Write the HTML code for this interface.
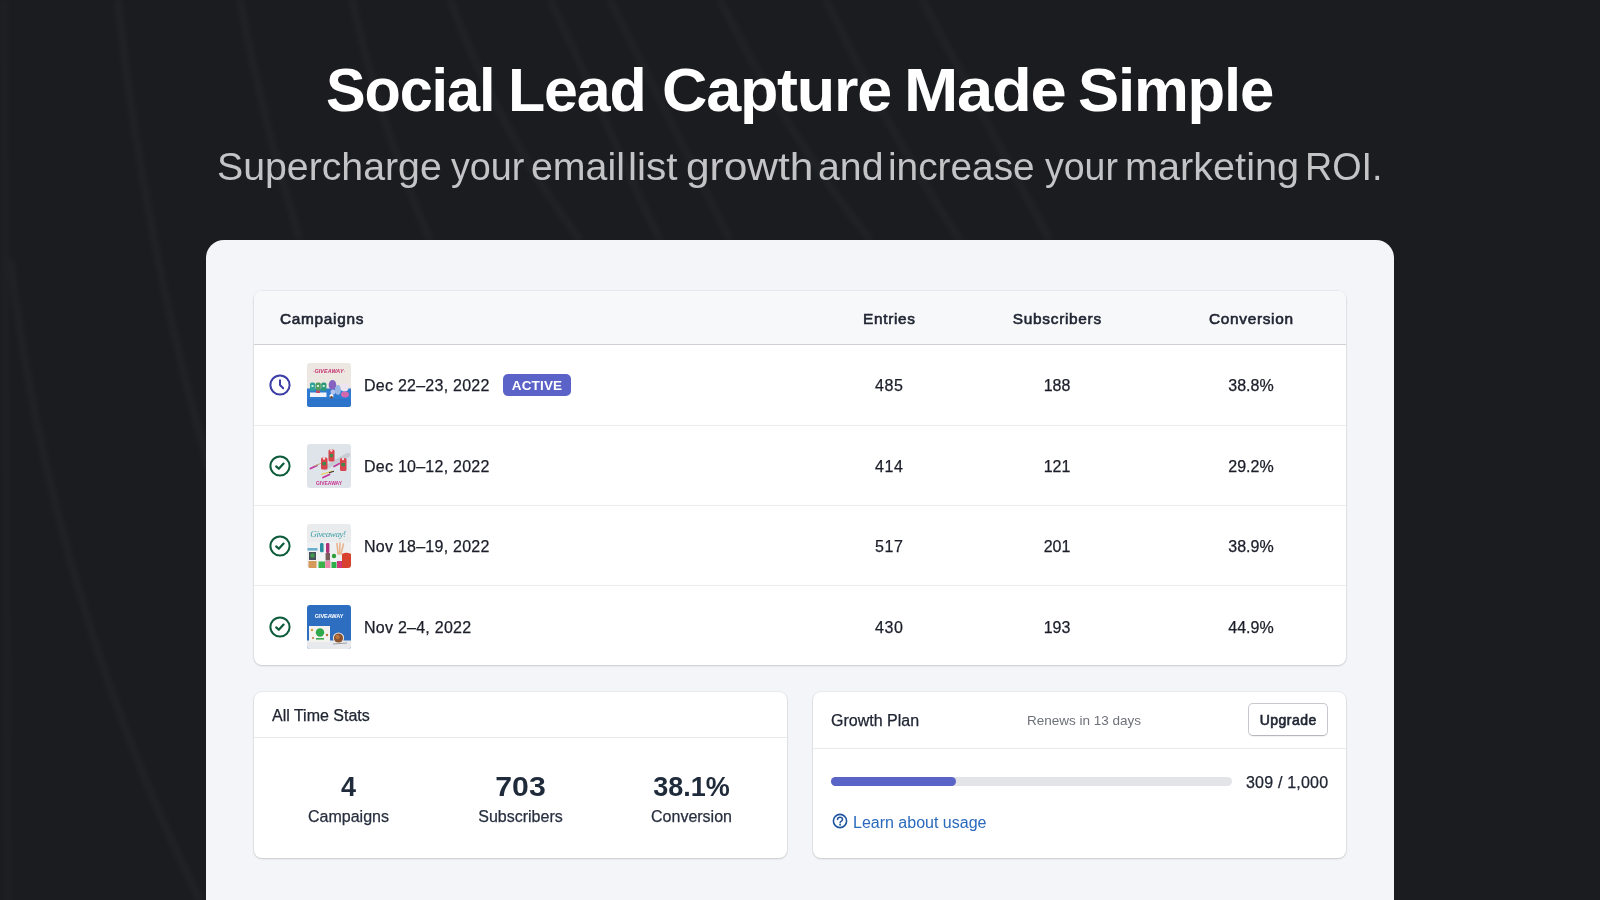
<!DOCTYPE html>
<html lang="en">
<head>
<meta charset="utf-8">
<title>Social Lead Capture Made Simple</title>
<style>
*{box-sizing:border-box;margin:0;padding:0}
html,body{width:1600px;height:900px;overflow:hidden}
body{-webkit-font-smoothing:antialiased;background:#1b1c20;font-family:"Liberation Sans",Arial,sans-serif;color:#202633;position:relative}
.bg{position:absolute;left:0;top:0;width:1600px;height:900px}
h1{will-change:transform;position:absolute;left:0;width:1600px;height:62px;top:58.5px;font-size:62px;line-height:62px;font-weight:700;color:#fff}
h1 span,.sub span{position:absolute;top:0;white-space:nowrap;transform-origin:0 0}
.sub{will-change:transform;position:absolute;left:0;width:1600px;height:38px;top:148px;font-size:38px;line-height:38px;font-weight:400;color:#c4c4c6}
.panel{position:absolute;left:206px;top:240px;width:1188px;height:700px;background:#f4f5f9;border-radius:18px}
.card{will-change:transform;position:absolute;background:#fff;border-radius:8px;box-shadow:0 0 0 1px rgba(63,63,68,.06),0 1px 2px rgba(63,63,68,.18)}
.t{position:absolute;white-space:nowrap;line-height:1}
.date,.num,.ctitle,.stat span,.usage{-webkit-text-stroke:.25px currentColor}

.tbl{left:254px;top:291px;width:1092px;height:374px;overflow:hidden}
.thead{position:absolute;left:0;top:0;width:1092px;height:54px;background:#f7f8fa;border-bottom:1px solid #cfd1d7}
.th{position:absolute;top:19.5px;font-size:15.4px;font-weight:400;-webkit-text-stroke:.6px currentColor;letter-spacing:.7px;color:#202633;line-height:1}
.row{position:absolute;left:0;width:1092px;height:81px;border-bottom:1px solid #ececee}
.row:last-child{border-bottom:0}
.ic{position:absolute;left:15px;top:29px;width:22px;height:22px}
.thumb{position:absolute;left:53px;top:18px;width:44px;height:44px;border-radius:3px;overflow:hidden}
.date{position:absolute;left:110px;top:33px;font-size:16px;color:#1b1e29;line-height:1;letter-spacing:.25px}
.num{position:absolute;top:33px;font-size:16px;color:#1b1e29;line-height:1;width:200px;text-align:center;letter-spacing:.6px;text-indent:.6px}
.badge{position:absolute;left:249px;top:29px;height:22px;width:68px;border-radius:5px;background:#5c63c8;color:#fff;font-size:13.5px;font-weight:700;line-height:23.5px;text-align:center;letter-spacing:.15px}

.stats{left:254px;top:692px;width:533px;height:166px}
.plan{left:813px;top:692px;width:533px;height:166px}
.chead{position:absolute;left:0;top:0;width:533px;border-bottom:1px solid #e8e9ec}
.ctitle{position:absolute;font-size:16px;color:#202633;line-height:1}
.stat{position:absolute;top:82px;width:171px;text-align:center}
.stat b{display:block;font-size:27px;font-weight:700;color:#1f2b3b;line-height:27px;letter-spacing:.5px;text-indent:.5px}
.stat span{display:block;font-size:16px;color:#283040;line-height:16px;margin-top:7.5px}
.renew{position:absolute;left:214px;top:21.5px;font-size:13.5px;color:#6d7178;line-height:1}
.btn{position:absolute;left:435px;top:11px;width:80px;height:33px;border:1px solid #c6c9ce;border-bottom-color:#b5b8be;border-radius:5px;background:#fff;font-size:14px;font-weight:400;-webkit-text-stroke:.6px currentColor;letter-spacing:.5px;text-indent:.5px;color:#202633;text-align:center;line-height:33.5px;box-shadow:0 1px 0 rgba(0,0,0,.05)}
.track{position:absolute;left:18px;top:85px;width:401px;height:9px;border-radius:5px;background:#e3e4e8}
.fill{position:absolute;left:0;top:0;width:125px;height:9px;border-radius:5px;background:#5a63c6}
.usage{position:absolute;left:433px;top:82.5px;font-size:16px;color:#202633;line-height:1;letter-spacing:.2px}
.learn{position:absolute;left:18px;top:121.5px;height:16px;font-size:16px;color:#2a69bd;line-height:1}
.learn svg{position:absolute;left:1px;top:-0.5px;width:16px;height:16px}
.learn span{position:absolute;left:22px;top:1px;white-space:nowrap}
</style>
</head>
<body>
<svg class="bg" viewBox="0 0 1600 900">
  <defs><filter id="bl" x="-20%" y="-20%" width="140%" height="140%"><feGaussianBlur stdDeviation="2.5"/></filter></defs>
  <g fill="none" stroke="#ffffff" stroke-opacity="0.035" stroke-width="5" filter="url(#bl)">
    <path d="M118 0 C 130 120, 160 300, 210 470"/>
    <path d="M240 0 C 255 80, 275 160, 300 240"/>
    <path d="M352 0 C 370 80, 395 160, 430 240"/>
    <path d="M450 0 C 480 80, 520 160, 580 240"/>
    <path d="M550 0 C 590 80, 620 160, 660 240"/>
    <path d="M610 0 C 650 80, 690 160, 730 240"/>
    <path d="M720 0 C 750 60, 800 150, 870 240"/>
    <path d="M826 0 C 850 50, 900 150, 960 240"/>
    <path d="M922 0 C 950 50, 1000 150, 1050 240"/>
    <path d="M10 260 C 40 500, 110 720, 200 900"/>
    <path d="M4 0 L 8 900" stroke-opacity="0.02"/>
  </g>
</svg>

<h1><span style="left:326.1px;letter-spacing:-1.2px;transform:scaleX(0.959)">Social</span> <span style="left:508.1px;letter-spacing:-1.2px;transform:scaleX(0.982)">Lead</span> <span style="left:662.0px;letter-spacing:-1.2px;transform:scaleX(1.014)">Capture</span> <span style="left:903.8px;letter-spacing:-1.2px;transform:scaleX(1.051)">Made</span> <span style="left:1078.0px;letter-spacing:-1.2px;transform:scaleX(0.995)">Simple</span></h1>
<p class="sub"><span style="left:217.4px;transform:scaleX(1.033)">Supercharge</span> <span style="left:450.5px;transform:scaleX(0.993)">your</span> <span style="left:531.0px;transform:scaleX(1.034)">email</span> <span style="left:627.9px;transform:scaleX(1.067)">list</span> <span style="left:685.9px;transform:scaleX(1.117)">growth</span> <span style="left:817.7px;transform:scaleX(1.033)">and</span> <span style="left:887.5px;transform:scaleX(1.021)">increase</span> <span style="left:1045px;transform:scaleX(0.986)">your</span> <span style="left:1125.4px;transform:scaleX(1.043)">marketing</span> <span style="left:1305.3px;transform:scaleX(0.993)">ROI.</span></p>

<div class="panel"></div>
<div class="card tbl">
<div class="thead"><span class="th" style="left:26px">Campaigns</span><span class="th" style="left:535px;width:200px;text-align:center;text-indent:.7px">Entries</span><span class="th" style="left:703px;width:200px;text-align:center;text-indent:.7px">Subscribers</span><span class="th" style="left:897px;width:200px;text-align:center;text-indent:.7px">Conversion</span></div>
<div class="row" style="top:54px"><svg class="ic" viewBox="0 0 22 22"><circle cx="11" cy="11" r="9.6" fill="none" stroke="#3d3fa6" stroke-width="2"/><path d="M11 6.2 V11 L14.2 14.2" fill="none" stroke="#3d3fa6" stroke-width="2" stroke-linecap="round" stroke-linejoin="round"/></svg><svg class="thumb" viewBox="0 0 44 44"><rect width="44" height="44" fill="#ece7e1"/><text x="22" y="10.2" font-size="5.4" font-weight="700" font-style="italic" fill="#c4306e" text-anchor="middle" font-family="Liberation Sans" letter-spacing=".1">GIVEAWAY</text><circle cx="6.5" cy="8.5" r=".5" fill="#e58ab0"/><circle cx="37.5" cy="8.5" r=".5" fill="#e58ab0"/><rect x="0" y="25.5" width="44" height="18.5" fill="#2f7bd1"/><rect x="0" y="36" width="44" height="8" fill="#2b74c9"/><rect x="3" y="19.5" width="5.2" height="8.5" rx="1.8" fill="#2fa39b"/><rect x="8.6" y="19.5" width="5.2" height="8.5" rx="1.8" fill="#4f9d62"/><rect x="14.2" y="19.5" width="5.2" height="8.5" rx="1.8" fill="#2e9a7a"/><rect x="4.5" y="22" width="2" height="2" fill="#c9f0e0"/><rect x="10" y="22" width="2" height="2" fill="#d6ecd0"/><rect x="15.7" y="22" width="2" height="2" fill="#c9f0e0"/><rect x="3" y="29.5" width="16.5" height="4.5" fill="#f0f3fa"/><rect x="9" y="27.5" width="4" height="2.5" fill="#c44a6a"/><ellipse cx="25.5" cy="22" rx="3.8" ry="5" fill="#8663c0"/><ellipse cx="31" cy="27" rx="3" ry="5" fill="#98b6e6"/><circle cx="37.5" cy="24.5" r="4" fill="#ece4f2"/><ellipse cx="38" cy="31.5" rx="4" ry="3" fill="#d468ae"/><ellipse cx="26" cy="29" rx="2.5" ry="2.5" fill="#b2c4ee"/><circle cx="24.5" cy="33" r="2" fill="#fbfbfb"/><circle cx="24.5" cy="34.3" r="1.3" fill="#7a4a30"/></svg><span class="date">Dec 22–23, 2022</span><span class="badge">ACTIVE</span><span class="num" style="left:535px">485</span><span class="num" style="left:703px;letter-spacing:0;text-indent:0">188</span><span class="num" style="left:897px;letter-spacing:0;text-indent:0">38.8%</span></div>
<div class="row" style="top:135px;height:80px"><svg class="ic" viewBox="0 0 22 22"><circle cx="11" cy="11" r="9.6" fill="none" stroke="#0e5c3c" stroke-width="2"/><path d="M7.2 11.4 L9.8 13.8 L14.6 8.6" fill="none" stroke="#0e5c3c" stroke-width="2.2" stroke-linecap="round" stroke-linejoin="round"/></svg><svg class="thumb" viewBox="0 0 44 44"><rect width="44" height="44" fill="#dfe3ea"/><path d="M18 24 L41 11" stroke="#c8ccd5" stroke-width="4.5" stroke-linecap="round"/><path d="M3.5 24.5 L10 21.5" stroke="#c2379c" stroke-width="1.8" stroke-linecap="round"/><path d="M16 33.5 L22.5 30.5" stroke="#c2379c" stroke-width="1.8" stroke-linecap="round"/><path d="M27 22.5 L32.5 19.5" stroke="#c2379c" stroke-width="1.6" stroke-linecap="round"/><path d="M14 30.5 L26 27" stroke="#e3cf48" stroke-width="1.3"/><path d="M22 28.8 L27 27.3" stroke="#3a3030" stroke-width="1.1"/><path d="M7 22 L15 19" stroke="#b9b07a" stroke-width="1"/><rect x="14" y="13.5" width="6.5" height="12" rx="1.6" fill="#d8444c"/><rect x="21.5" y="5.5" width="6" height="12" rx="1.6" fill="#d8444c"/><rect x="33" y="14" width="6.5" height="13" rx="1.6" fill="#d8444c"/><rect x="15.4" y="18" width="3.6" height="3.2" fill="#3a8a4c"/><rect x="22.7" y="10" width="3.4" height="3.2" fill="#3a8a4c"/><rect x="34.4" y="19" width="3.6" height="3.2" fill="#3a8a4c"/><circle cx="17" cy="14.5" r="1.2" fill="#f6e0dc"/><circle cx="24.3" cy="6.5" r="1.2" fill="#f6e0dc"/><circle cx="36" cy="15" r="1.2" fill="#f6e0dc"/><text x="22" y="40.8" font-size="5" font-weight="700" fill="#c8358e" text-anchor="middle" font-family="Liberation Sans">GIVEAWAY</text></svg><span class="date">Dec 10–12, 2022</span><span class="num" style="left:535px">414</span><span class="num" style="left:703px;letter-spacing:0;text-indent:0">121</span><span class="num" style="left:897px;letter-spacing:0;text-indent:0">29.2%</span></div>
<div class="row" style="top:215px;height:80px"><svg class="ic" viewBox="0 0 22 22"><circle cx="11" cy="11" r="9.6" fill="none" stroke="#0e5c3c" stroke-width="2"/><path d="M7.2 11.4 L9.8 13.8 L14.6 8.6" fill="none" stroke="#0e5c3c" stroke-width="2.2" stroke-linecap="round" stroke-linejoin="round"/></svg><svg class="thumb" viewBox="0 0 44 44"><rect width="44" height="44" fill="#e9ebed"/><rect y="18" width="44" height="26" fill="#eef0f2"/><text x="21" y="12.5" font-size="9" font-style="italic" fill="#3e9fa8" text-anchor="middle" font-family="Liberation Serif" letter-spacing="-.4">Giveaway!</text><rect x="0.5" y="24" width="10" height="20" fill="#f2f2f0"/><rect x="0.5" y="24" width="10" height="2.6" fill="#6aaed0"/><rect x="2" y="28" width="7" height="8" fill="#48505e"/><circle cx="5.5" cy="31.5" r="2.2" fill="#3f9a4a"/><rect x="1.5" y="37" width="8" height="7" fill="#d59a5a"/><rect x="13" y="19" width="3.6" height="9.5" rx="1.4" fill="#2a8ea0"/><rect x="12.2" y="28.5" width="5.2" height="8.5" fill="#f4f4f4"/><rect x="11.5" y="37.5" width="6.5" height="6.5" fill="#3cb34a"/><rect x="19" y="19" width="3.4" height="10" rx="1.2" fill="#b0307a"/><rect x="18.6" y="29" width="4.4" height="7.5" fill="#7a5a5a"/><rect x="18.2" y="37" width="5.2" height="7" fill="#e88aa8"/><circle cx="27" cy="32" r="2.2" fill="#2f9e3a"/><rect x="25" y="35" width="4" height="3" fill="#f4f4f4"/><rect x="24.5" y="38" width="5" height="6" fill="#2fae4c"/><path d="M30 19.5 L31 30 M33 19 L32.5 30 M36.5 20 L34 30" stroke="#e8b48e" stroke-width="1.6" stroke-linecap="round"/><path d="M35 30 Q39.5 27.5 44 30 L44 44 L35 44 Z" fill="#d9412f"/><rect x="30" y="37" width="5" height="7" fill="#d1357a"/></svg><span class="date">Nov 18–19, 2022</span><span class="num" style="left:535px">517</span><span class="num" style="left:703px;letter-spacing:0;text-indent:0">201</span><span class="num" style="left:897px;letter-spacing:0;text-indent:0">38.9%</span></div>
<div class="row" style="top:295.5px"><svg class="ic" viewBox="0 0 22 22"><circle cx="11" cy="11" r="9.6" fill="none" stroke="#0e5c3c" stroke-width="2"/><path d="M7.2 11.4 L9.8 13.8 L14.6 8.6" fill="none" stroke="#0e5c3c" stroke-width="2.2" stroke-linecap="round" stroke-linejoin="round"/></svg><svg class="thumb" viewBox="0 0 44 44"><rect width="44" height="44" fill="#2e6ec1"/><text x="22" y="13" font-size="5.6" font-weight="700" fill="#ffffff" text-anchor="middle" font-family="Liberation Sans" letter-spacing="-.1">GIVEAWAY</text><rect x="0" y="35.5" width="44" height="8.5" fill="#e7e9ed"/><rect x="2" y="21" width="21" height="16" fill="#f4f2ee"/><circle cx="13" cy="27.5" r="4.2" fill="#2ea84a"/><rect x="9" y="33" width="8" height="1.6" fill="#3aa850"/><circle cx="5" cy="25" r="1.2" fill="#d7a03a"/><circle cx="20" cy="30" r="1.2" fill="#b9773a"/><circle cx="6" cy="33" r="1" fill="#b9773a"/><circle cx="31.5" cy="33" r="5.6" fill="#f0e6da"/><circle cx="31.5" cy="33" r="4.6" fill="#8a5230"/><circle cx="30.5" cy="32" r="2.2" fill="#b8783f"/><path d="M26 39 L40 38" stroke="#9aa0a8" stroke-width="1.2"/></svg><span class="date">Nov 2–4, 2022</span><span class="num" style="left:535px">430</span><span class="num" style="left:703px;letter-spacing:0;text-indent:0">193</span><span class="num" style="left:897px;letter-spacing:0;text-indent:0">44.9%</span></div>
</div>

<div class="card stats">
<div class="chead" style="height:46px"><span class="ctitle" style="left:18px;top:16px">All Time Stats</span></div>
<div class="stat" style="left:9px"><b style="letter-spacing:0;text-indent:0">4</b><span>Campaigns</span></div>
<div class="stat" style="left:181px"><b style="letter-spacing:0;text-indent:0;transform:scaleX(1.12)">703</b><span>Subscribers</span></div>
<div class="stat" style="left:352px"><b style="letter-spacing:0;text-indent:0">38.1%</b><span>Conversion</span></div>
</div>
<div class="card plan">
<div class="chead" style="height:57px"><span class="ctitle" style="left:18px;top:21px">Growth Plan</span><span class="renew">Renews in 13 days</span><span class="btn">Upgrade</span></div>
<div class="track"><div class="fill"></div></div>
<span class="usage">309 / 1,000</span>
<div class="learn"><svg viewBox="0 0 16 16"><circle cx="8" cy="8" r="6.6" fill="none" stroke="#1f56a0" stroke-width="1.6"/><path d="M5.5 6.5 C5.5 5.1 6.6 4.2 8 4.2 C9.4 4.2 10.5 5.1 10.5 6.4 C10.5 8 8.1 8.1 8.1 9.8" fill="none" stroke="#1f56a0" stroke-width="1.5" stroke-linecap="round"/><circle cx="8.1" cy="11.8" r=".95" fill="#1f56a0"/></svg><span>Learn about usage</span></div>
</div>
</body>
</html>
